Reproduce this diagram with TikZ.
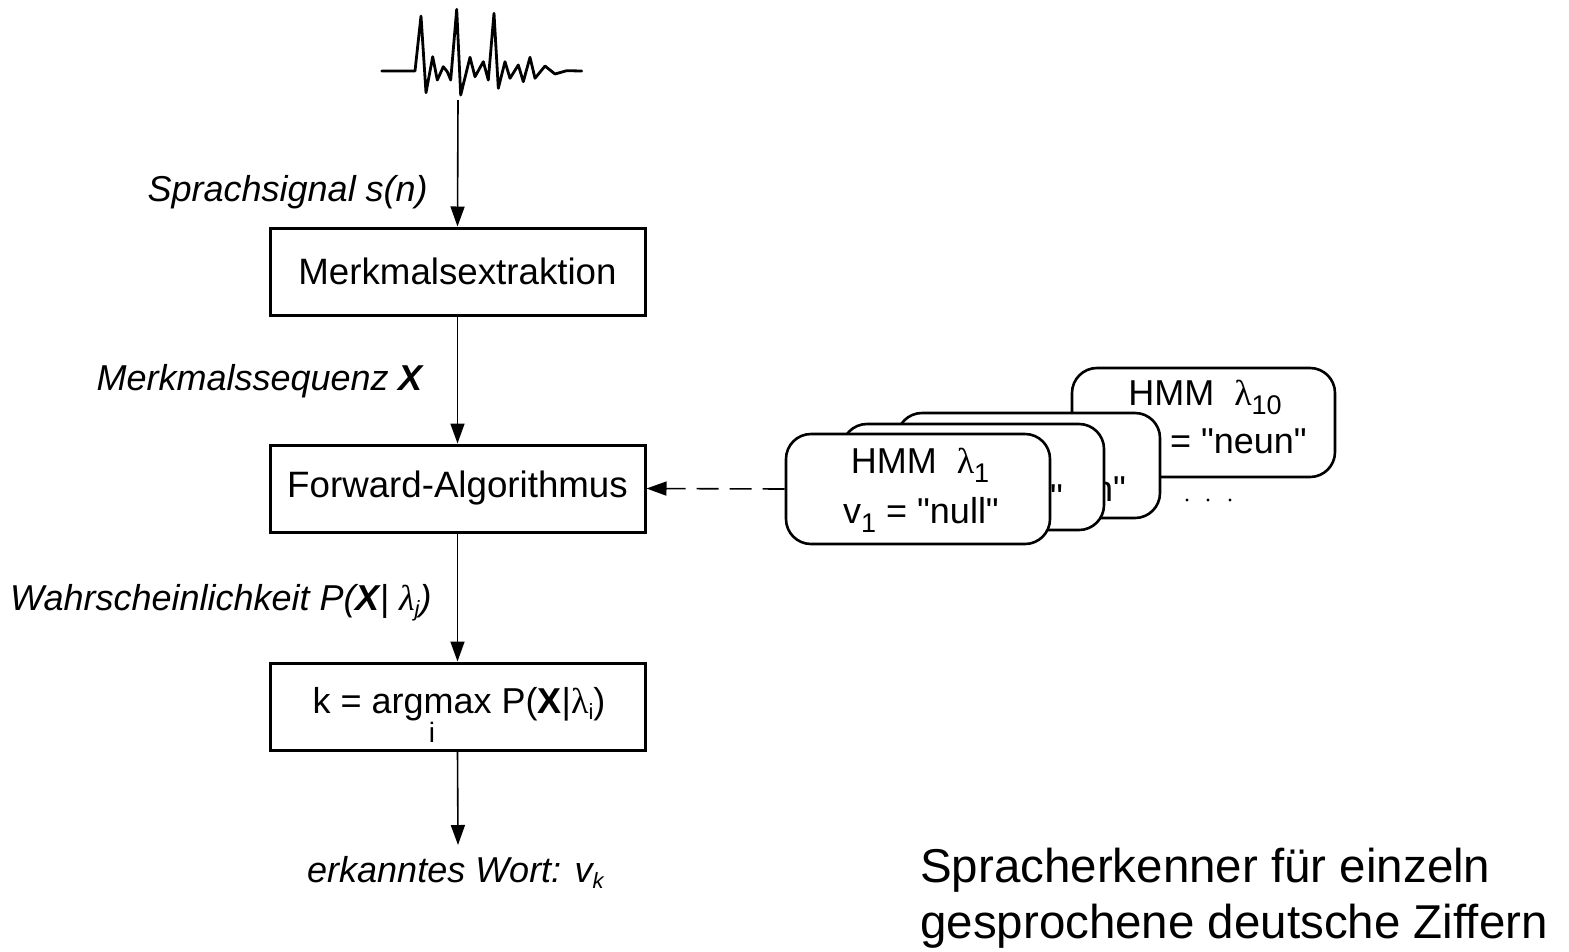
\documentclass[tikz,border=0pt]{standalone}
\usepackage{fontspec}
\setmainfont{Liberation Sans}
\newfontfamily\arial{Liberation Sans}
\newfontfamily\lamfont{Liberation Serif}
\usetikzlibrary{arrows.meta}
\newcommand\lam{{\lamfont λ}}
\newcommand\sbx[1]{\raisebox{-9pt}{\fontsize{27}{27}\selectfont #1}}
\newcommand\ssb[1]{\raisebox{-6pt}{\fontsize{22}{22}\selectfont #1}}
\tikzset{
 blk/.style={draw, line width=3pt, minimum width=375pt, minimum height=87pt, inner sep=0pt, font=\arial\fontsize{36.7}{44}\selectfont},
 card/.style={draw, fill=white, line width=2.6pt, rounded corners=25pt, inner sep=0pt},
 lbl/.style={inner sep=0pt, font=\arial\fontsize{36}{43}\selectfont\itshape},
 ctxt/.style={inner sep=0pt, font=\arial\fontsize{36}{43}\selectfont},
 flow/.style={line width=1.6pt, -{Triangle[length=20pt,width=14pt]}},
}
\begin{document}
\begin{tikzpicture}[x=1pt,y=-1pt]
\useasboundingbox[fill=white] (0,0) rectangle (1569,951);
% speech signal
\draw[line width=2.8pt, line join=round, line cap=round]
 (381.7,71) -- (415,71) -- (421,16) -- (426,92.7) -- (432.7,56.7) -- (437.3,80)
 -- (443.3,66.7) -- (447.3,71.7) -- (450.7,80) -- (456.7,9.3) -- (460.7,95)
 -- (470,57.3) -- (475,76.7) -- (483.3,61.7) -- (488.3,80) -- (494,13.3)
 -- (498.3,88.3) -- (505,61.7) -- (510,78.3) -- (518.3,65) -- (523.3,81.7)
 -- (530,57.3) -- (535,78.3) -- (545,66) -- (555,74) -- (566.7,70.7) -- (581.7,71);
\coordinate (sig) at (458,100);
% blocks
\node[blk] (mx) at (457.5,271.5) {Merkmalsextraktion};
\node[blk] (fa) at (457.5,488.5) {Forward-Algorithmus};
\node[blk] (am) at (457.5,706.5) {};
\node[ctxt, anchor=base] (amt) at (459,713) {k = argmax P(\textbf{X}|\lam\ssb{i})};
\node[inner sep=0pt, font=\arial\fontsize{28}{28}\selectfont, anchor=base] (ami) at (432,742) {i};
\coordinate (out) at (458,845);
% labels
\node[lbl, anchor=base east] (l1) at (428,201) {Sprachsignal s(n)};
\node[lbl, anchor=base east] (l2) at (423,390) {Merkmalssequenz \textbf{X}};
\node[lbl, anchor=base west] (l3) at (10,610) {Wahrscheinlichkeit P(\textbf{X}| \lam\ssb{j})};
\node[lbl, anchor=base west] (l4) at (307,882) {erkanntes Wort: v\ssb{k}};
% arrows
\draw[flow] (sig) -- (mx.north);
\draw[flow] (mx.south) -- (fa.north);
\draw[flow] (fa.south) -- (am.north);
\draw[flow] (am.south) -- (out);
% HMM cards
\node[card, minimum width=263pt, minimum height=109pt] (c10) at (1203.5,422.5) {};
\node[ctxt, anchor=base] (c10a) at (1205,405) {HMM\ \ \lam\sbx{10}};
\node[ctxt, anchor=base east] (c10b) at (1307,453) {v\sbx{10} = "neun"};
\foreach \x in {1187,1208,1230} \fill (\x,500) circle (1.6pt);
\node[card, minimum width=263pt, minimum height=105pt] (c3) at (1028.5,465.5) {};
\node[ctxt, anchor=base east] (c3b) at (1126,501) {n"};
\node[card, minimum width=262pt, minimum height=106pt] (c2) at (973,477) {};
\node[ctxt, anchor=base east] (c2b) at (1063,509) {"};
\node[card, minimum width=264pt, minimum height=110pt] (c1) at (918,489) {};
\node[ctxt, anchor=base] (c1a) at (920,473) {HMM\ \ \lam\sbx{1}};
\node[ctxt, anchor=base] (c1b) at (921,523) {v\sbx{1} = "null"};
\draw[flow, dash pattern=on 22pt off 11pt] (c1.west) -- (fa.east);
% caption
\node[inner sep=0pt, anchor=base west, font=\arial\fontsize{47.5}{57}\selectfont] (cap1) at (920,882) {Spracherkenner für einzeln};
\node[inner sep=0pt, anchor=base west, font=\arial\fontsize{47.5}{57}\selectfont] (cap2) at (920,938) {gesprochene deutsche Ziffern};
\end{tikzpicture}
\end{document}
